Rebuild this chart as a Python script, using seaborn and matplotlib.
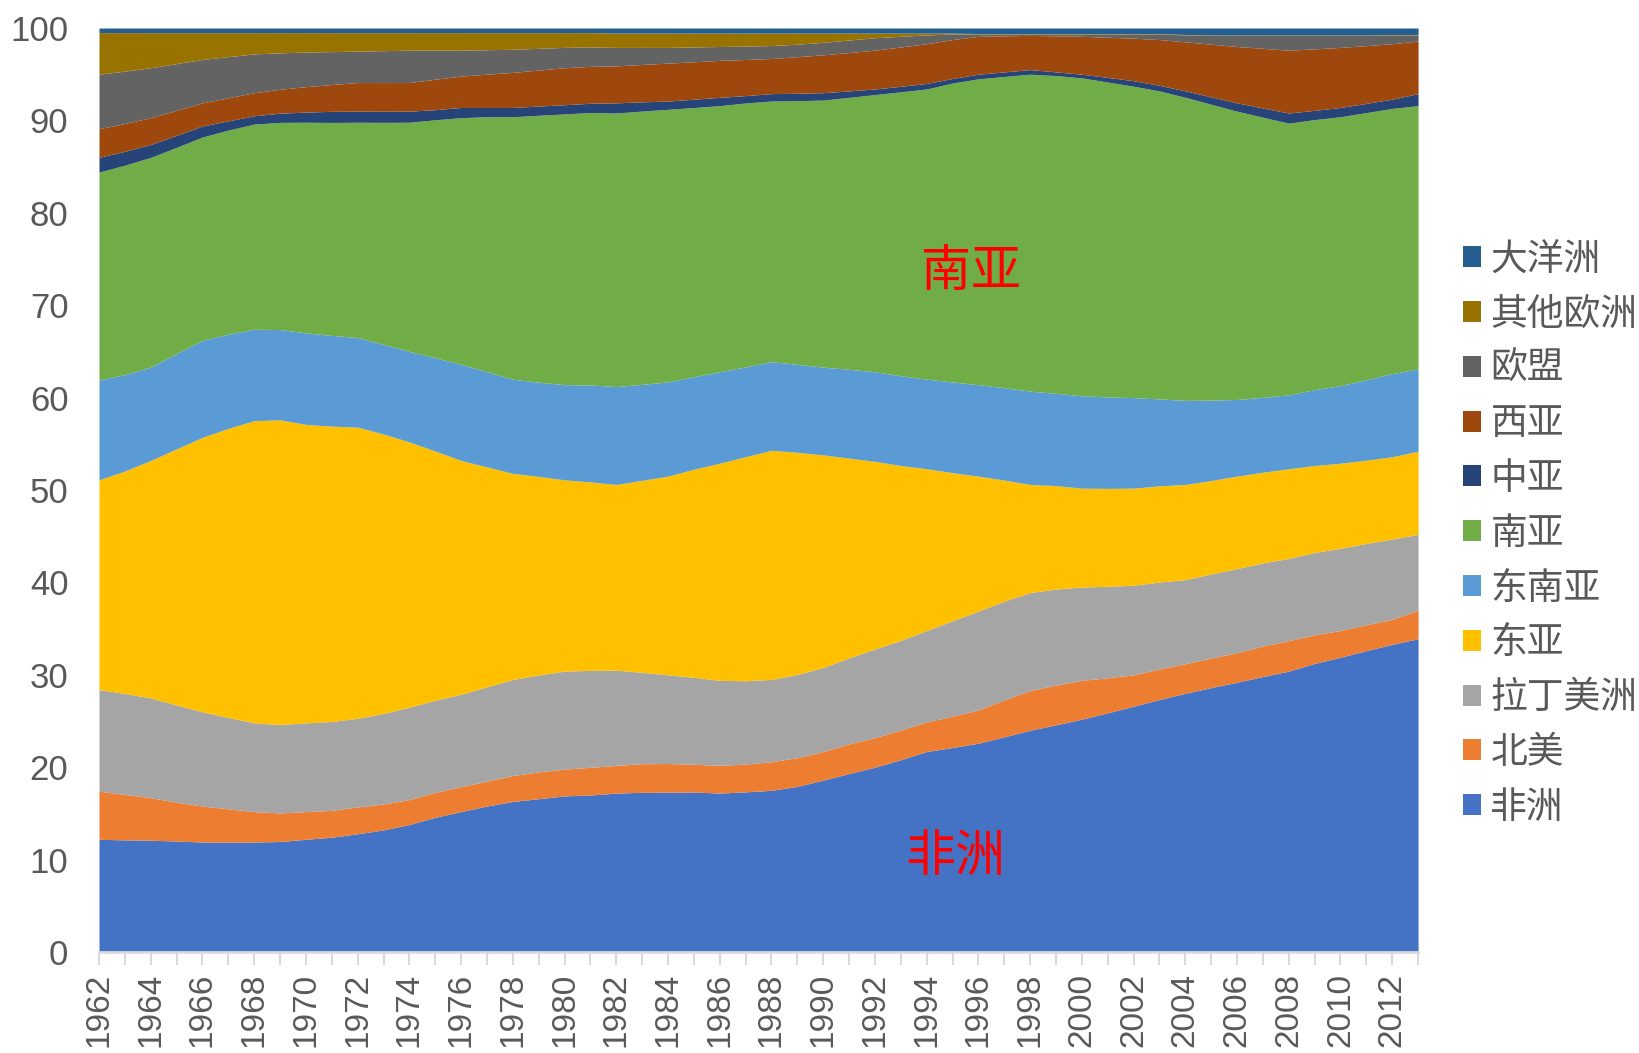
import numpy as np
import pandas as pd
import matplotlib
matplotlib.use("Agg")
import matplotlib.pyplot as plt
from matplotlib.patches import Patch
import seaborn as sns

years = list(range(1962, 2014))

africa = [12.2, 12.1, 12.1, 12.0, 11.9, 11.9, 11.9, 12.0, 12.2, 12.4, 12.8, 13.2, 13.8, 14.6, 15.2, 15.8, 16.3, 16.6, 16.9, 17.0,
          17.2, 17.3, 17.3, 17.3, 17.2, 17.3, 17.5, 17.9, 18.6, 19.3, 20.0, 20.8, 21.7, 22.1, 22.6, 23.3, 24.0, 24.6, 25.2, 25.9,
          26.6, 27.3, 28.0, 28.6, 29.2, 29.8, 30.4, 31.2, 31.9, 32.6, 33.3, 33.9]
north_america = [5.2, 4.9, 4.6, 4.2, 3.9, 3.6, 3.3, 3.1, 3.0, 2.9, 2.9, 2.8, 2.7, 2.7, 2.7, 2.7, 2.8, 2.9, 2.9, 3.0,
                 3.0, 3.1, 3.1, 3.0, 3.0, 3.0, 3.1, 3.1, 3.1, 3.2, 3.2, 3.2, 3.2, 3.4, 3.6, 4.0, 4.3, 4.3, 4.2, 3.8,
                 3.4, 3.3, 3.2, 3.2, 3.2, 3.3, 3.3, 3.1, 2.9, 2.8, 2.7, 3.1]
latin_america = [11.0, 10.9, 10.8, 10.5, 10.2, 9.9, 9.6, 9.6, 9.6, 9.6, 9.6, 9.8, 10.0, 10.0, 10.0, 10.2, 10.4, 10.5, 10.6, 10.5,
                 10.3, 9.9, 9.6, 9.4, 9.2, 9.0, 8.9, 9.0, 9.1, 9.3, 9.6, 9.7, 9.9, 10.3, 10.7, 10.7, 10.6, 10.4, 10.1, 9.9,
                 9.7, 9.4, 9.1, 9.1, 9.1, 9.0, 8.9, 8.9, 8.9, 8.8, 8.7, 8.2]
east_asia = [22.7, 24.0, 25.7, 27.7, 29.7, 31.3, 32.7, 33.1, 32.3, 31.9, 31.5, 30.2, 28.7, 27.0, 25.3, 23.8, 22.3, 21.5, 20.7, 20.4,
             20.1, 20.8, 21.5, 22.5, 23.5, 24.2, 24.8, 24.0, 23.0, 21.6, 20.3, 18.9, 17.5, 16.0, 14.6, 13.1, 11.7, 11.2, 10.7, 10.6,
             10.5, 10.4, 10.3, 10.1, 10.0, 9.8, 9.7, 9.4, 9.2, 9.0, 8.9, 9.0]
southeast_asia = [10.8, 10.4, 10.1, 10.3, 10.5, 10.2, 9.9, 9.8, 9.9, 9.8, 9.7, 9.7, 9.8, 10.1, 10.4, 10.3, 10.2, 10.2, 10.3, 10.5,
                  10.6, 10.4, 10.2, 10.0, 9.9, 9.7, 9.6, 9.5, 9.5, 9.6, 9.7, 9.7, 9.7, 9.8, 9.9, 10.0, 10.1, 10.0, 10.0, 9.9,
                  9.8, 9.4, 9.1, 8.7, 8.3, 8.1, 8.0, 8.2, 8.4, 8.7, 9.0, 8.9]
south_asia = [22.5, 22.6, 22.7, 22.3, 22.0, 22.1, 22.2, 22.5, 22.8, 23.0, 23.3, 24.0, 24.8, 25.8, 26.7, 27.6, 28.4, 28.9, 29.3, 29.5,
              29.6, 29.6, 29.5, 29.1, 28.8, 28.5, 28.2, 28.5, 28.9, 29.4, 30.0, 30.7, 31.4, 32.3, 33.1, 33.7, 34.3, 34.4, 34.4, 34.1,
              33.7, 33.3, 32.8, 32.0, 31.2, 30.3, 29.4, 29.2, 29.1, 28.9, 28.7, 28.5]
central_asia = [1.6, 1.5, 1.4, 1.3, 1.2, 1.0, 0.9, 1.0, 1.1, 1.2, 1.2, 1.2, 1.2, 1.1, 1.1, 1.0, 1.0, 1.0, 1.0, 1.0,
                1.1, 1.0, 0.9, 0.9, 0.9, 0.8, 0.8, 0.8, 0.8, 0.7, 0.6, 0.6, 0.6, 0.5, 0.5, 0.5, 0.5, 0.4, 0.4, 0.5,
                0.6, 0.6, 0.7, 0.8, 0.9, 1.0, 1.1, 1.0, 1.0, 1.0, 1.0, 1.3]
west_asia = [3.1, 3.0, 2.9, 2.7, 2.5, 2.5, 2.5, 2.6, 2.75, 2.9, 3.1, 3.1, 3.1, 3.3, 3.4, 3.6, 3.8, 3.9, 4.0, 4.0,
             4.0, 4.05, 4.1, 4.05, 4.0, 3.9, 3.8, 3.95, 4.1, 4.15, 4.2, 4.25, 4.3, 4.2, 4.1, 3.9, 3.7, 3.9, 4.1, 4.35,
             4.6, 4.95, 5.3, 5.7, 6.1, 6.45, 6.8, 6.65, 6.5, 6.25, 6.0, 5.7]
eu = [5.9, 5.65, 5.4, 5.05, 4.7, 4.45, 4.2, 3.95, 3.75, 3.55, 3.4, 3.45, 3.5, 3.15, 2.8, 2.65, 2.5, 2.35, 2.2, 2.1,
      2.0, 1.85, 1.7, 1.6, 1.5, 1.45, 1.4, 1.35, 1.35, 1.35, 1.35, 1.15, 0.95, 0.6, 0.25, 0.2, 0.15, 0.2, 0.25, 0.35,
      0.45, 0.6, 0.75, 0.95, 1.2, 1.4, 1.6, 1.45, 1.3, 1.1, 0.95, 0.65]
other_europe = [4.5, 4.15, 3.8, 3.35, 2.9, 2.6, 2.3, 2.2, 2.1, 2.05, 2.0, 1.95, 1.9, 1.9, 1.9, 1.85, 1.8, 1.7, 1.6, 1.55,
                1.55, 1.55, 1.55, 1.5, 1.45, 1.4, 1.35, 1.2, 1.0, 0.75, 0.5, 0.35, 0.2, 0.1, 0.05, 0.05, 0.05, 0.05, 0.05, 0.05,
                0.05, 0.05, 0.05, 0.05, 0.05, 0.05, 0.05, 0.05, 0.05, 0.05, 0.05, 0.05]
oceania = [0.5, 0.5, 0.5, 0.5, 0.5, 0.5, 0.5, 0.5, 0.5, 0.5, 0.5, 0.5, 0.5, 0.5, 0.5, 0.5, 0.5, 0.5, 0.5, 0.5,
           0.55, 0.55, 0.55, 0.55, 0.55, 0.55, 0.55, 0.55, 0.55, 0.55, 0.55, 0.55, 0.55, 0.55, 0.6, 0.6, 0.6, 0.6, 0.6, 0.6,
           0.6, 0.6, 0.7, 0.75, 0.75, 0.75, 0.75, 0.75, 0.75, 0.75, 0.7, 0.7]

regions = ["非洲", "北美", "拉丁美洲", "东亚", "东南亚", "南亚", "中亚", "西亚", "欧盟", "其他欧洲", "大洋洲"]
colors = ["#4472C4", "#ED7D31", "#A5A5A5", "#FFC000", "#5B9BD5", "#70AD47",
          "#264478", "#9E480E", "#636363", "#997300", "#255E91"]

df = pd.DataFrame({
    "year": years,
    "非洲": africa, "北美": north_america, "拉丁美洲": latin_america, "东亚": east_asia,
    "东南亚": southeast_asia, "南亚": south_asia, "中亚": central_asia, "西亚": west_asia,
    "欧盟": eu, "其他欧洲": other_europe, "大洋洲": oceania,
})
# 100% stacked area: normalise each year to 100
share = df[regions].div(df[regions].sum(axis=1), axis=0) * 100

sns.set_theme(style="white")
plt.rcParams["font.family"] = ["Liberation Sans", "Noto Sans CJK SC", "DejaVu Sans"]

fig = plt.figure(figsize=(16.39, 10.53), dpi=100)
ax = fig.add_axes([0.0604, 0.0959, 0.8048, 0.8775])

ax.stackplot(df["year"], [share[r] for r in regions], colors=colors, labels=regions,
             linewidth=0, antialiased=True)

ax.set_xlim(1962, 2013)
ax.set_ylim(0, 100)
ax.set_yticks(range(0, 101, 10))
ax.set_xticks(range(1962, 2013, 2))
ax.set_xticks(range(1962, 2014), minor=True)
tick_col = "#595959"
ax.tick_params(axis="y", length=0, pad=22, labelsize=25, labelcolor=tick_col)
ax.tick_params(axis="x", which="both", length=9, width=1.5, color="#D9D9D9", direction="out",
               bottom=True, labelsize=24, labelcolor=tick_col, pad=6)
plt.setp(ax.get_xticklabels(), rotation=90)

sns.despine(ax=ax, left=True, top=True, right=True)
ax.spines["bottom"].set_color("#D9D9D9")
ax.spines["bottom"].set_linewidth(2)
ax.set_xlabel("")
ax.set_ylabel("")

cjk = ["Noto Sans CJK SC", "DejaVu Sans"]
ax.text(1995.7, 73.6, "南亚", color="#FF0000", fontsize=36, ha="center", va="center", family=cjk)
ax.text(1995.1, 10.3, "非洲", color="#FF0000", fontsize=36, ha="center", va="center", family=cjk)

handles = [Patch(facecolor=c, edgecolor="none") for c in colors]
leg = fig.legend(handles[::-1], regions[::-1], loc="center left", bbox_to_anchor=(0.8835, 0.4936),
                 frameon=False, prop={"family": cjk, "size": 26.5}, handlelength=0.5, handleheight=0.5,
                 handletextpad=0.25, labelspacing=0.43, borderaxespad=0)
for t in leg.get_texts():
    t.set_color(tick_col)

fig.savefig("out.png", dpi=100)
